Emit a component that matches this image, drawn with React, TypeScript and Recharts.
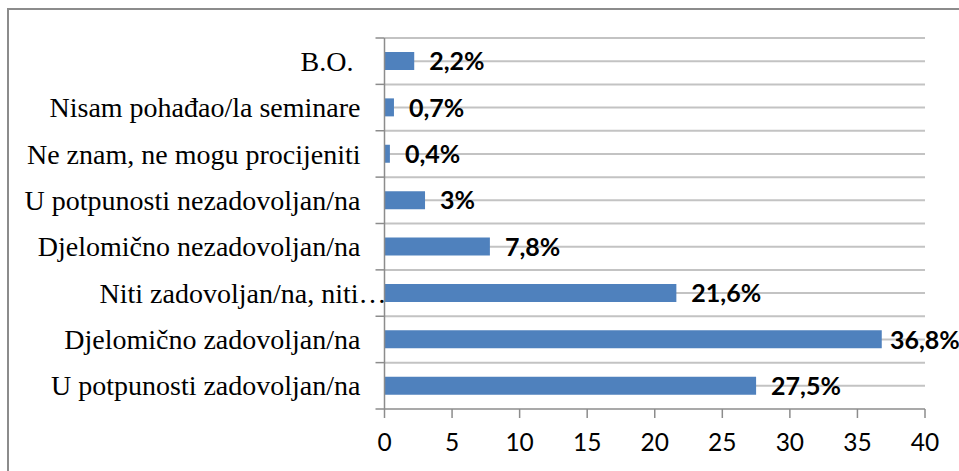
import React from 'react';
import { BarChart, Bar, XAxis, YAxis, CartesianGrid, LabelList } from 'recharts';

const categories = [
  'B.O.\u00A0',
  'Nisam pohađao/la seminare',
  'Ne znam, ne mogu procijeniti',
  'U potpunosti nezadovoljan/na',
  'Djelomično nezadovoljan/na',
  'Niti zadovoljan/na, niti…',
  'Djelomično zadovoljan/na',
  'U potpunosti zadovoljan/na',
];
const values = [2.2, 0.7, 0.4, 3, 7.8, 21.6, 36.8, 27.5];
const xTicks = [0, 5, 10, 15, 20, 25, 30, 35, 40];

const data = categories.map((name, i) => ({ name, value: values[i] }));

const W = 959;
const H = 471;
const MARGIN = { top: 38, right: 34, bottom: 12, left: 0 };
const Y_AXIS_WIDTH = 384.5;
const X_AXIS_HEIGHT = 50;
const PLOT_H = H - MARGIN.top - MARGIN.bottom - X_AXIS_HEIGHT;
const TICK_SIZE = 9;
const Y_TICK_MARGIN = 15;
const AXIS_COLOR = '#8c8c8c';
const GRID_COLOR = '#c3c3c3';
const BAR_COLOR = '#4F81BD';

const fmt = (v: number) => String(v).replace('.', ',') + '%';

const YTick = (props: any) => {
  const { x, y, payload, index } = props;
  const band = PLOT_H / categories.length;
  const axisX = x + TICK_SIZE + Y_TICK_MARGIN;
  const label = String(payload.value);
  const shift = label.endsWith('…') ? 26 : 0;
  return (
    <g>
      <line x1={axisX - TICK_SIZE} x2={axisX} y1={y - band / 2} y2={y - band / 2} stroke={AXIS_COLOR} strokeWidth={1.5} />
      {index === categories.length - 1 && (
        <line x1={axisX - TICK_SIZE} x2={axisX} y1={y + band / 2} y2={y + band / 2} stroke={AXIS_COLOR} strokeWidth={1.5} />
      )}
      <text
        x={x + shift}
        y={y}
        dy="0.345em"
        textAnchor="end"
        fontFamily="'Liberation Serif', 'Times New Roman', serif"
        fontSize={28}
        fill="#000"
      >
        {label}
      </text>
    </g>
  );
};

const BarLabel = (props: any) => {
  const { x, y, width, height, value } = props;
  const plotRight = W - MARGIN.right;
  const lx = Math.min(Number(x) + Number(width) + 15, plotRight - 35);
  return (
    <text
      x={lx}
      y={Number(y) + Number(height) / 2}
      dy="0.37em"
      fontFamily="Lato, 'Open Sans', sans-serif"
      fontWeight="bold"
      fontSize={25}
      fill="#000"
    >
      {fmt(Number(value))}
    </text>
  );
};

export default function App() {
  const n = categories.length;
  return (
    <div style={{ position: 'absolute', left: 0, top: 0, width: W, height: H, overflow: 'hidden', background: '#fff' }}>
      <style>{`body{margin:0;overflow:hidden;}`}</style>
      <div
        style={{
          position: 'absolute',
          left: 7,
          top: 8,
          width: W,
          height: H,
          borderLeft: `2px solid ${AXIS_COLOR}`,
          borderTop: `2px solid ${AXIS_COLOR}`,
        }}
      />
      <div style={{ position: 'absolute', left: 0, top: 0 }}>
        <BarChart width={W} height={H} data={data} layout="vertical" margin={MARGIN}>
          <CartesianGrid
            vertical={false}
            stroke={GRID_COLOR}
            strokeWidth={2}
            horizontalCoordinatesGenerator={({ offset }: any) =>
              Array.from({ length: 2 * n }, (_, i) => offset.top + (i * offset.height) / (2 * n))
            }
          />
          <XAxis
            type="number"
            domain={[0, 40]}
            ticks={xTicks}
            interval={0}
            height={X_AXIS_HEIGHT}
            tickSize={TICK_SIZE}
            tickMargin={16}
            axisLine={{ stroke: AXIS_COLOR, strokeWidth: 1.5 }}
            tickLine={{ stroke: AXIS_COLOR, strokeWidth: 1.5 }}
            tick={{ fontFamily: "Lato, 'Open Sans', sans-serif", fontSize: 24.5, fill: '#000' }}
          />
          <YAxis
            type="category"
            dataKey="name"
            width={Y_AXIS_WIDTH}
            interval={0}
            tickSize={TICK_SIZE}
            tickMargin={Y_TICK_MARGIN}
            tickLine={false}
            axisLine={{ stroke: AXIS_COLOR, strokeWidth: 1.5 }}
            tick={<YTick />}
          />
          <Bar dataKey="value" fill={BAR_COLOR} barSize={18} isAnimationActive={false}>
            <LabelList dataKey="value" content={<BarLabel />} />
          </Bar>
        </BarChart>
      </div>
    </div>
  );
}
